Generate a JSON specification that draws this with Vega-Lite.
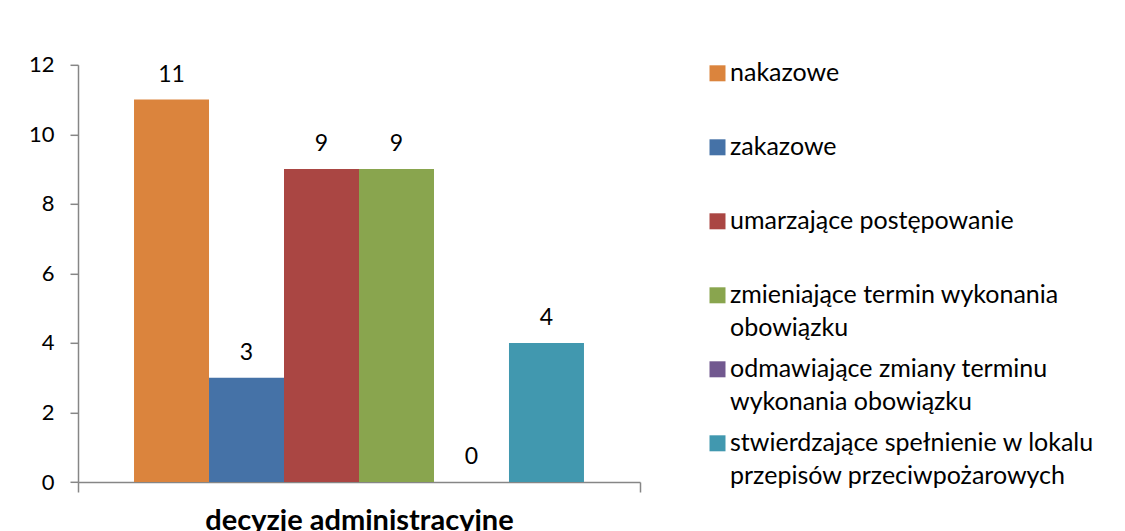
{
  "$schema": "https://vega.github.io/schema/vega-lite/v6.json",
  "autosize": {"type": "none"},
  "padding": {"left": 78, "top": 64.8, "right": 485, "bottom": 49},
  "width": 562,
  "height": 417.2,
  "background": "white",
  "config": {
    "view": {"stroke": null},
    "font": "Lato",
    "axis": {"grid": false, "domainColor": "#868686", "tickColor": "#868686", "domainWidth": 1.5, "tickWidth": 1.5, "labelColor": "#000000", "titleColor": "#000000", "labelFont": "Lato", "titleFont": "Lato"},
    "legend": {"labelFont": "Lato"}
  },
  "data": {
    "values": [
      {"kategoria": "decyzje administracyjne", "seria": "nakazowe", "liczba": 11},
      {"kategoria": "decyzje administracyjne", "seria": "zakazowe", "liczba": 3},
      {"kategoria": "decyzje administracyjne", "seria": "umarzające postępowanie", "liczba": 9},
      {"kategoria": "decyzje administracyjne", "seria": "zmieniające termin wykonania obowiązku", "liczba": 9},
      {"kategoria": "decyzje administracyjne", "seria": "odmawiające zmiany terminu wykonania obowiązku", "liczba": 0},
      {"kategoria": "decyzje administracyjne", "seria": "stwierdzające spełnienie w lokalu przepisów przeciwpożarowych", "liczba": 4}
    ]
  },
  "encoding": {
    "x": {
      "field": "kategoria",
      "type": "nominal",
      "scale": {"paddingInner": 0, "paddingOuter": 0},
      "axis": {"title": "decyzje administracyjne", "labels": false, "tickBand": "extent", "tickSize": 10, "titleFontSize": 29, "titleFontWeight": "bold", "titlePadding": 14}
    },
    "xOffset": {
      "field": "seria",
      "type": "nominal",
      "sort": null,
      "scale": {"paddingInner": 0, "paddingOuter": 0.747}
    },
    "y": {
      "field": "liczba",
      "type": "quantitative",
      "scale": {"domain": [0, 12], "nice": false},
      "axis": {"title": null, "values": [0, 2, 4, 6, 8, 10, 12], "tickSize": 8, "labelPadding": 16, "labelFontSize": 22}
    }
  },
  "layer": [
    {
      "mark": {"type": "bar"},
      "encoding": {
        "color": {
          "field": "seria",
          "type": "nominal",
          "sort": null,
          "scale": {
            "domain": ["nakazowe", "zakazowe", "umarzające postępowanie", "zmieniające termin wykonania obowiązku", "odmawiające zmiany terminu wykonania obowiązku", "stwierdzające spełnienie w lokalu przepisów przeciwpożarowych"],
            "range": ["#DB843D", "#4572A7", "#AA4643", "#89A54E", "#71588F", "#4198AF"]
          },
          "legend": {
            "title": null,
            "orient": "none",
            "legendX": 627,
            "legendY": -4,
            "symbolType": "square",
            "symbolSize": 256,
            "symbolStrokeWidth": 0,
            "labelFontSize": 25,
            "labelColor": "#000000",
            "labelLimit": 440,
            "labelOffset": 0,
            "rowPadding": 15,
            "labelBaseline": "top",
            "labelExpr": "datum.label == 'zmieniające termin wykonania obowiązku' ? ['zmieniające termin wykonania', 'obowiązku'] : datum.label == 'odmawiające zmiany terminu wykonania obowiązku' ? ['odmawiające zmiany terminu', 'wykonania obowiązku'] : datum.label == 'stwierdzające spełnienie w lokalu przepisów przeciwpożarowych' ? ['stwierdzające spełnienie w lokalu', 'przepisów przeciwpożarowych'] : [datum.label, ' ']",
            "encode": {"labels": {"update": {"lineHeight": {"value": 33}, "dy": {"value": -12}}}}
          }
        }
      }
    },
    {
      "mark": {"type": "text", "baseline": "alphabetic", "dy": -18, "fontSize": 23, "color": "#000000"},
      "encoding": {"text": {"field": "liczba", "type": "quantitative"}}
    }
  ]
}
